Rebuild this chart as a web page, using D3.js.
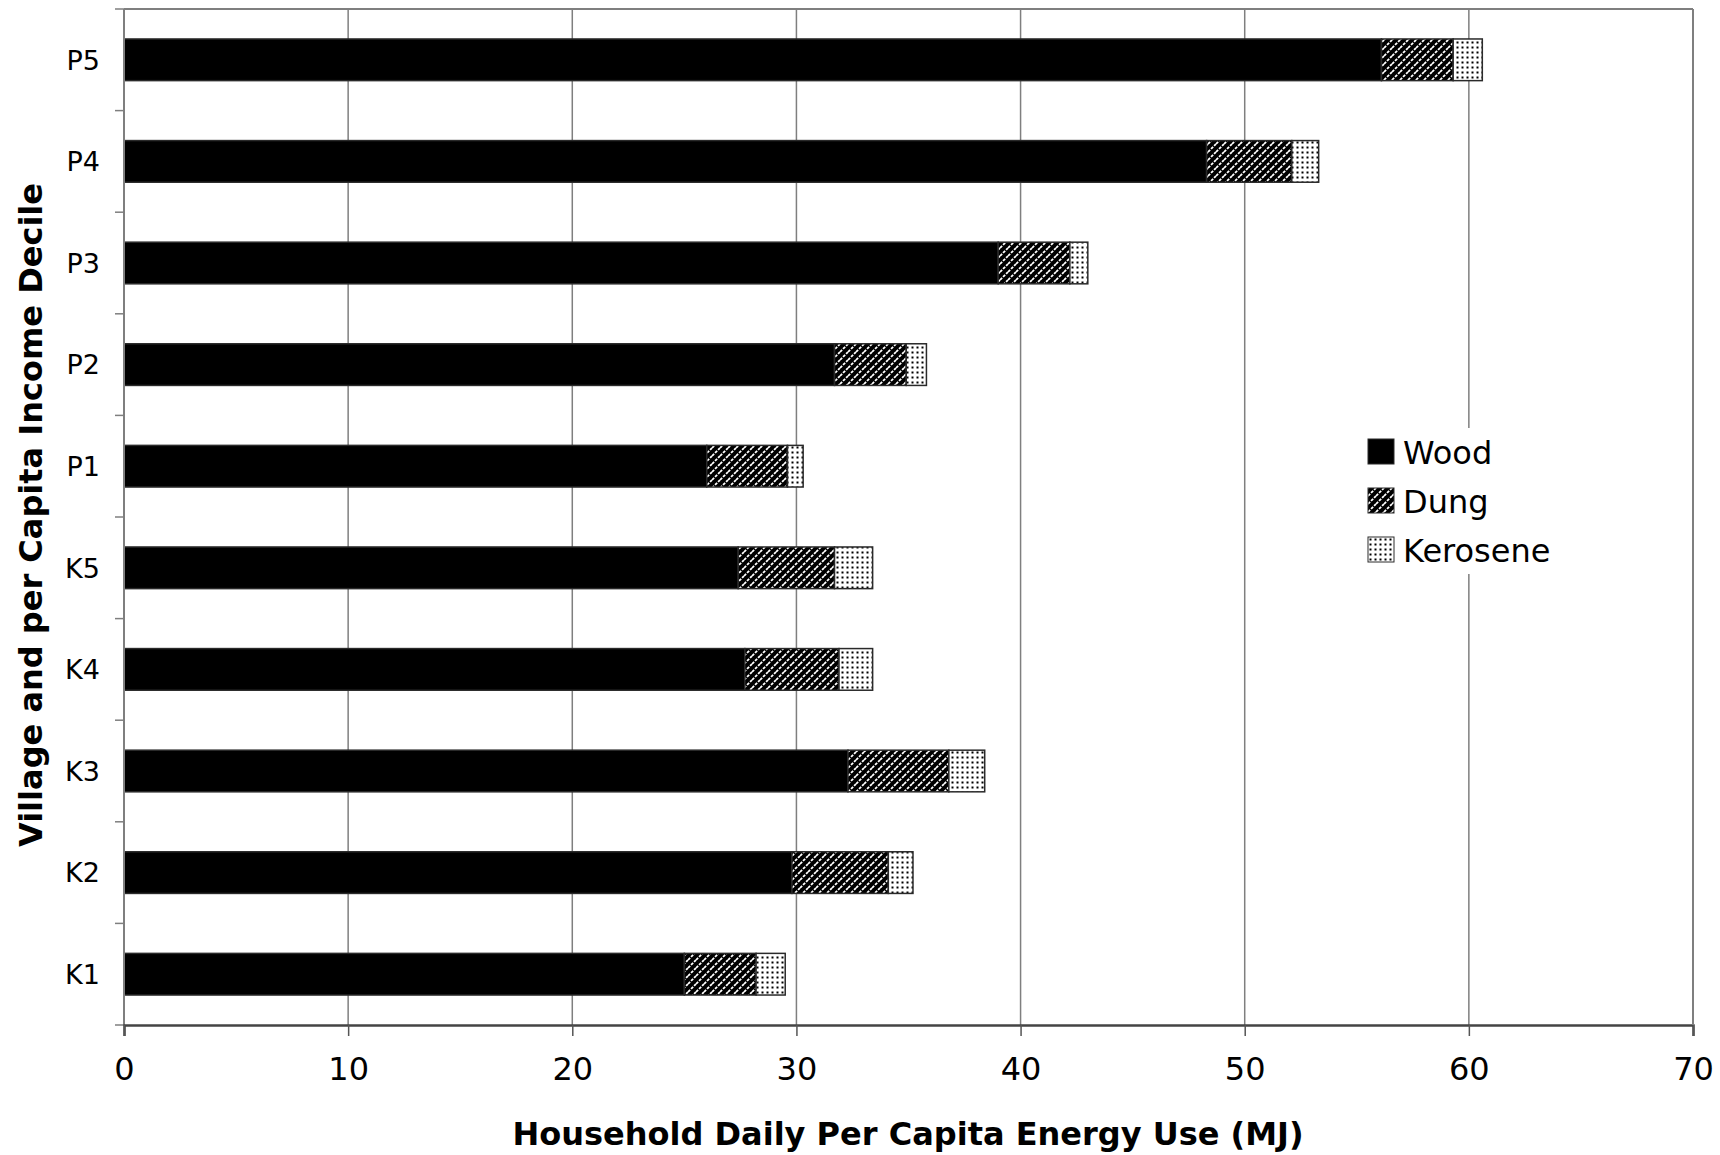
<!DOCTYPE html>
<html>
<head>
<meta charset="utf-8">
<script src="https://cdn.jsdelivr.net/npm/d3@7"></script>
<style>
  body { margin: 0; background: white; }
  text { font-family: "DejaVu Sans", Verdana, sans-serif; }
</style>
</head>
<body>
<script>
    // data, top to bottom as in the chart
    var categories = ['P5', 'P4', 'P3', 'P2', 'P1', 'K5', 'K4', 'K3', 'K2', 'K1']
    var wood     = [56.1, 48.3, 39.0, 31.7, 26.0, 27.4, 27.7, 32.3, 29.8, 25.0]
    var dung     = [3.2, 3.8, 3.2, 3.2, 3.6, 4.3, 4.2, 4.5, 4.3, 3.2]
    var kerosene = [1.3, 1.2, 0.8, 0.9, 0.7, 1.7, 1.5, 1.6, 1.1, 1.3]
    var seriesNames = ['Wood', 'Dung', 'Kerosene']
    var xTicks = [0, 10, 20, 30, 40, 50, 60, 70]

    width = 1720
    height = 1155
    margin = {top: 9, right: 27, bottom: 130, left: 124}

    var fills = {Wood: 'black', Dung: 'url(#pat-dung)', Kerosene: 'url(#pat-kero)'}

    var rows = categories.map(function (c, i) {
        return {cat: c, Wood: wood[i], Dung: dung[i], Kerosene: kerosene[i]}
    })

    var svg = d3.select("body")
        .append("svg")
        .attr("width", width)
        .attr("height", height)

    // fill patterns for dung (white diagonal dashes on black) and kerosene (dots)
    var defs = svg.append('defs')
    var pd = defs.append('pattern')
        .attr('id', 'pat-dung')
        .attr('patternUnits', 'userSpaceOnUse')
        .attr('width', 8).attr('height', 8)
    pd.append('rect').attr('width', 8).attr('height', 8).attr('fill', 'black')
    pd.append('path')
        .attr('d', 'M-2,2 L2,-2 M0,8 L8,0 M6,10 L10,6')
        .attr('stroke', 'white')
        .attr('stroke-width', 1.8)
        .attr('stroke-dasharray', '3,1.3')

    var pk = defs.append('pattern')
        .attr('id', 'pat-kero')
        .attr('patternUnits', 'userSpaceOnUse')
        .attr('width', 5).attr('height', 5)
    pk.append('rect').attr('width', 5).attr('height', 5).attr('fill', 'white')
    pk.append('rect').attr('x', 1.5).attr('y', 1.5).attr('width', 2).attr('height', 2).attr('fill', 'black')

    var x = d3.scaleLinear()
        .domain([0, 70])
        .range([margin.left, width - margin.right])

    var y = d3.scaleBand()
        .domain(categories)
        .range([margin.top, height - margin.bottom])
        .paddingInner(0.59)
        .paddingOuter(0.295)

    var plotTop = margin.top
    var plotBottom = height - margin.bottom

    // vertical gridlines
    svg.append('g').selectAll('line')
        .data(xTicks.slice(1))
        .enter()
        .append('line')
        .attr('x1', function (d) { return x(d) })
        .attr('x2', function (d) { return x(d) })
        .attr('y1', plotTop)
        .attr('y2', plotBottom)
        .style('stroke', '#7f7f7f')
        .style('stroke-width', 1.5)

    // top border
    svg.append('line')
        .attr('x1', x(0)).attr('x2', x(70))
        .attr('y1', plotTop).attr('y2', plotTop)
        .style('stroke', '#7f7f7f')
        .style('stroke-width', 2)

    // stacked bars
    var stacked = d3.stack().keys(seriesNames)(rows)

    var layers = svg.append('g').selectAll('g')
        .data(stacked)
        .enter()
        .append('g')
        .attr('fill', function (d) { return fills[d.key] })

    layers.selectAll('rect')
        .data(function (d) { return d })
        .enter()
        .append('rect')
        .attr('x', function (d) { return x(d[0]) })
        .attr('y', function (d) { return y(d.data.cat) })
        .attr('width', function (d) { return x(d[1]) - x(d[0]) })
        .attr('height', y.bandwidth())
        .style('stroke', '#2a2a2a')
        .style('stroke-width', 1.5)

    // y axis: ticks at band boundaries
    var bounds = categories.map(function (c) { return y(c) - y.step() * y.paddingInner() / 2 })
    bounds[0] = plotTop
    bounds.push(plotBottom)

    var yAxisG = svg.append('g')
    yAxisG.append('line')
        .attr('x1', x(0)).attr('x2', x(0))
        .attr('y1', plotTop).attr('y2', plotBottom)
        .style('stroke', '#7f7f7f')
        .style('stroke-width', 2)
    yAxisG.selectAll('.ytick')
        .data(bounds)
        .enter()
        .append('line')
        .attr('x1', x(0) - 9).attr('x2', x(0))
        .attr('y1', function (d) { return d }).attr('y2', function (d) { return d })
        .style('stroke', '#7f7f7f')
        .style('stroke-width', 1.5)
    yAxisG.selectAll('text')
        .data(categories)
        .enter()
        .append('text')
        .text(function (d) { return d })
        .attr('x', 100)
        .attr('y', function (d) { return y(d) + y.bandwidth() / 2 })
        .attr('dy', '0.36em')
        .attr('text-anchor', 'end')
        .attr('font-size', '27px')
        .attr('fill', 'black')

    // x axis
    var xAxis = d3.axisBottom(x)
        .tickValues(xTicks)
        .tickSize(11)
        .tickPadding(21)
    var xAxisG = svg.append('g')
        .attr('transform', 'translate(0,' + plotBottom + ')')
        .call(xAxis)
    xAxisG.select('.domain').style('stroke', '#444').style('stroke-width', 2.5)
    xAxisG.selectAll('.tick line').style('stroke', '#555').style('stroke-width', 1.5)
    xAxisG.selectAll('.tick text')
        .attr('font-size', '32px')
        .attr('font-family', '"DejaVu Sans", Verdana, sans-serif')
        .attr('fill', 'black')

    // right border (drawn after axis so it sits on top)
    svg.append('line')
        .attr('x1', x(70)).attr('x2', x(70))
        .attr('y1', plotTop).attr('y2', plotBottom)
        .style('stroke', '#7f7f7f')
        .style('stroke-width', 2)

    // axis titles
    svg.append('text')
        .text('Household Daily Per Capita Energy Use (MJ)')
        .attr('x', 908)
        .attr('y', 1145)
        .attr('text-anchor', 'middle')
        .attr('font-size', '32px')
        .attr('font-weight', 'bold')
        .attr('fill', 'black')

    svg.append('text')
        .text('Village and per Capita Income Decile')
        .attr('transform', 'translate(42,515) rotate(-90)')
        .attr('text-anchor', 'middle')
        .attr('font-size', '32px')
        .attr('font-weight', 'bold')
        .attr('fill', 'black')

    // legend
    var legend = svg.append('g').attr('transform', 'translate(1360,428)')
    legend.append('rect')
        .attr('width', 210).attr('height', 146)
        .attr('fill', 'white')
    var legItems = legend.selectAll('.leg')
        .data(seriesNames)
        .enter()
        .append('g')
        .attr('transform', function (d, i) { return 'translate(8,' + (11 + i * 49) + ')' })
    legItems.append('rect')
        .attr('width', 26).attr('height', 25)
        .attr('fill', function (d) { return fills[d] })
        .style('stroke', '#2a2a2a')
        .style('stroke-width', 1)
    legItems.append('text')
        .text(function (d) { return d })
        .attr('x', 35)
        .attr('y', 25)
        .attr('font-size', '32px')
        .attr('fill', 'black')
</script>
</body>
</html>
